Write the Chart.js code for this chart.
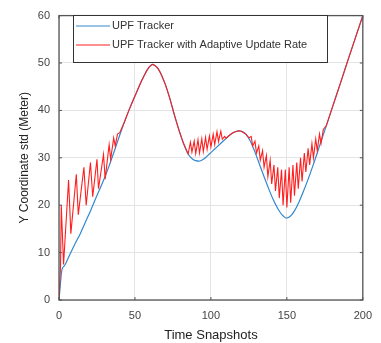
<!DOCTYPE html>
<html>
<head>
<meta charset="utf-8">
<script src="https://cdn.jsdelivr.net/npm/chart.js@4"></script>
<style>
  body { margin: 0; background: #fff; }
  #wrap { width: 381px; height: 343px; }
</style>
</head>
<body>
<div id="wrap"><canvas id="myChart" width="381" height="343"></canvas></div>
<script>
// values
const xTicks = [0, 50, 100, 150, 200];
const yTicks = [0, 10, 20, 30, 40, 50, 60];
const seriesNames = ['UPF Tracker', 'UPF Tracker with Adaptive Update Rate'];

const blueX = [0, 2, 3.5, 7, 10, 14, 17.5, 21, 24, 27, 30, 33, 36.5, 40, 43, 46, 49, 52, 54, 56,
  58, 59.5, 61.5, 63, 65, 67, 70, 73, 76, 79, 82, 85, 88, 90, 92, 94, 96, 98, 100, 102,
  104, 106, 108, 110, 112, 114, 116, 118.5, 120, 123, 126, 129, 132, 135, 138, 141, 144, 146, 148, 149.5,
  151, 153, 155, 158, 161, 164, 167, 170, 172, 176, 180, 185, 190, 195, 200];
const blueY = [0, 6.5, 7.2, 9.5, 11.5, 14, 16.5, 19, 21.3, 23.5, 25.8, 28.3, 31.5, 34.8, 37.5, 40, 42.3, 44.5, 46, 47.3,
  48.5, 49.2, 49.7, 49.5, 48.9, 47.8, 45.5, 42.5, 39, 35.8, 33, 30.8, 29.7, 29.4, 29.3, 29.5, 29.9, 30.5, 31.1, 31.7,
  32.3, 32.9, 33.5, 34.1, 34.7, 35.2, 35.5, 35.7, 35.6, 35, 33.5, 31.2, 28.6, 26, 23.5, 21.2, 19.3, 18.3, 17.6, 17.3,
  17.4, 17.9, 18.8, 20.7, 23, 25.5, 28.2, 31, 33, 36.8, 40.7, 45.5, 50.4, 55.2, 60];

const redX = [0, 1, 1.5, 3, 6.3, 7.8, 11.4, 12.7, 16.4, 17.9, 20.7, 22.2, 25, 26, 29.3, 30.4, 33, 34, 36, 37,
  38.5, 40, 43, 46, 49, 52, 54, 56, 58, 59.5, 61.5, 63, 65, 67, 70, 73, 76, 79, 82, 85,
  86.5, 87.5, 89, 90, 91.5, 92.5, 94, 95, 96.5, 97.5, 99, 100, 101.5, 102.5, 104, 105, 106.5, 107.5, 109, 110,
  112, 114, 116, 118.5, 120, 123,
  125, 126.5, 127.5, 129, 130, 131.5, 132.5, 134, 135, 136.5, 137.5, 139, 140, 141.5, 142.5, 144, 145, 146.5, 147.5, 149,
  150, 151.5, 152.5, 154, 155, 156.5, 157.5, 159, 160, 161.5, 162.5, 164, 165, 166.5, 167.5, 169, 170, 171.5, 172.5, 174,
  176, 180, 185, 190, 195, 200];
const redY = [0, 7, 20, 7.5, 25.3, 14, 26.5, 18, 28, 20, 29, 21.8, 29.7, 23.5, 30.7, 25.5, 32.8, 29.7, 34.2, 32.5,
  35, 35.3, 37.5, 40, 42.3, 44.5, 46, 47.3, 48.5, 49.2, 49.7, 49.5, 48.9, 47.8, 45.5, 42.5, 39, 35.8, 33, 30.8,
  33.3, 31.2, 33.5, 30.9, 33.8, 31, 34, 31.3, 34.3, 31.8, 34.6, 32.3, 35, 32.8, 35.5, 33.4, 35.6, 33.9, 34.5, 34.1,
  34.7, 35.2, 35.5, 35.7, 35.6, 35,
  34.2, 34.5, 32.5, 33.5, 31, 32.5, 29.5, 31.5, 28, 30.5, 26, 29.5, 24.5, 28.5, 23, 28, 21.5, 27.5, 20, 27.5,
  19.5, 28, 20.5, 28.5, 22, 29, 23.5, 30, 25, 31, 27, 32, 28.5, 33, 30, 34, 31.5, 35, 33, 36,
  36.8, 40.7, 45.5, 50.4, 55.2, 60];

const blueColor = '#3089d0';
const redColor = '#ff1f1f';

function toPoints(xs, ys) {
  return xs.map((x, i) => ({ x: x, y: ys[i] }));
}

// box round the plot, inward ticks, legend inside the axes
const boxPlugin = {
  id: 'boxPlugin',
  afterDatasetsDraw(chart) {
    const ctx = chart.ctx;
    const a = chart.chartArea;
    const sx = chart.scales.x;
    const sy = chart.scales.y;
    ctx.save();
    ctx.strokeStyle = '#555';
    ctx.lineWidth = 1.3;
    ctx.strokeRect(a.left, a.top, a.right - a.left, a.bottom - a.top);
    ctx.lineWidth = 1;
    xTicks.forEach((v) => {
      const px = sx.getPixelForValue(v);
      ctx.beginPath();
      ctx.moveTo(px, a.bottom); ctx.lineTo(px, a.bottom - 3);
      ctx.moveTo(px, a.top); ctx.lineTo(px, a.top + 3);
      ctx.stroke();
    });
    yTicks.forEach((v) => {
      const py = sy.getPixelForValue(v);
      ctx.beginPath();
      ctx.moveTo(a.left, py); ctx.lineTo(a.left + 3, py);
      ctx.moveTo(a.right, py); ctx.lineTo(a.right - 3, py);
      ctx.stroke();
    });

    // legend
    const lx = 73, ly = 15, lw = 254, lh = 47;
    ctx.fillStyle = '#fff';
    ctx.fillRect(lx, ly, lw, lh);
    ctx.strokeStyle = '#333';
    ctx.strokeRect(lx + 0.5, ly + 0.5, lw, lh);
    const colors = [blueColor, redColor];
    ctx.font = '11px "Liberation Sans", Arial, sans-serif';
    ctx.textBaseline = 'middle';
    seriesNames.forEach((name, i) => {
      const y = ly + 11 + i * 19;
      ctx.strokeStyle = colors[i];
      ctx.lineWidth = 1.2;
      ctx.beginPath();
      ctx.moveTo(lx + 3, y); ctx.lineTo(lx + 37, y);
      ctx.stroke();
      ctx.fillStyle = '#333';
      ctx.fillText(name, lx + 39, y);
    });
    ctx.restore();
  }
};

const ctx = document.getElementById('myChart').getContext('2d');
const myChart = new Chart(ctx, {
  type: 'line',
  data: {
    datasets: [
      {
        label: seriesNames[0],
        data: toPoints(blueX, blueY),
        borderColor: blueColor,
        borderWidth: 1.2,
        pointRadius: 0,
        cubicInterpolationMode: 'monotone',
        order: 2
      },
      {
        label: seriesNames[1],
        data: toPoints(redX, redY),
        borderColor: redColor,
        borderWidth: 1.1,
        pointRadius: 0,
        tension: 0,
        order: 1
      }
    ]
  },
  options: {
    responsive: false,
    animation: false,
    layout: { padding: { left: 0, top: 10, right: 13, bottom: 0 } },
    plugins: { legend: { display: false }, tooltip: { enabled: false } },
    scales: {
      x: {
        type: 'linear',
        min: 0,
        max: 200,
        afterBuildTicks: (scale) => { scale.ticks = xTicks.map((v) => ({ value: v })); },
        afterFit: (scale) => { scale.height = 43; },
        ticks: { color: '#444', font: { size: 11, family: '"Liberation Sans", Arial' }, padding: 9, maxRotation: 0 },
        grid: { color: '#e4e4e4', drawTicks: false },
        border: { display: false },
        title: {
          display: true,
          text: 'Time Snapshots',
          color: '#222',
          font: { size: 13, family: '"Liberation Sans", Arial' },
          padding: { top: 2, bottom: 0 }
        }
      },
      y: {
        min: 0,
        max: 60,
        afterBuildTicks: (scale) => { scale.ticks = yTicks.map((v) => ({ value: v })); },
        afterFit: (scale) => { scale.width = 59; },
        ticks: { color: '#444', font: { size: 11, family: '"Liberation Sans", Arial' }, padding: 9 },
        grid: { color: '#e4e4e4', drawTicks: false },
        border: { display: false },
        title: {
          display: true,
          text: 'Y Coordinate std (Meter)',
          color: '#222',
          font: { size: 12, family: '"Liberation Sans", Arial' },
          padding: { top: 17, bottom: 0 }
        }
      }
    }
  },
  plugins: [boxPlugin]
});
console.log('chart done', myChart.chartArea);
</script>
</body>
</html>
